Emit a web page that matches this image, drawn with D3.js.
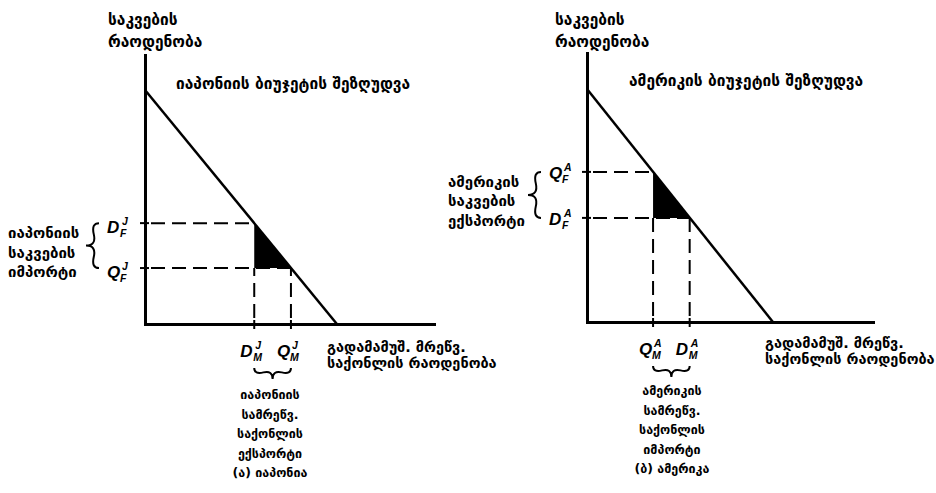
<!DOCTYPE html>
<html>
<head>
<meta charset="utf-8">
<script src="https://cdn.jsdelivr.net/npm/d3@7/dist/d3.min.js"></script>
<style>
  body { margin: 0; background: #fff; }
  svg { display: block; }
  .geo { font-family: "DejaVu Sans", sans-serif; font-weight: bold; fill: #000; }
  .sym { font-family: "Liberation Sans", Arial, sans-serif; font-weight: bold; font-style: italic; fill: #000; }
</style>
</head>
<body>
<script>
// Budget constraints of two trading economies: food vs. manufactured goods
const countries = ["japan", "america"];
const countrySup = ["J", "A"];

// Budget line intercepts (units of food / of manufactured goods)
const foodMax = [87, 86.6];
const goodsMax = [66.4, 65];

// Consumption (D) and production (Q) points
const consumptionGoods = [37.8, 35.9];
const consumptionFood = [37.5, 38.7];
const productionGoods = [50.5, 23.1];
const productionFood = [20.8, 55.8];

// Texts
const yAxisTitle = ["საკვების", "რაოდენობა"];
const xAxisTitle = ["გადამამუშ. მრეწვ.", "საქონლის რაოდენობა"];
const budgetTitles = ["იაპონიის ბიუჯეტის შეზღუდვა", "ამერიკის ბიუჯეტის შეზღუდვა"];
const foodTradeLabels = [
  ["იაპონიის", "საკვების", "იმპორტი"],
  ["ამერიკის", "საკვების", "ექსპორტი"]
];
const goodsTradeLabels = [
  ["იაპონიის", "სამრეწვ.", "საქონლის", "ექსპორტი", "(ა) იაპონია"],
  ["ამერიკის", "სამრეწვ.", "საქონლის", "იმპორტი", "(ბ) ამერიკა"]
];

const W = 936, H = 493;
const svg = d3.select("body").append("svg").attr("width", W).attr("height", H);

// Panel placement
const layout = [
  { ox: 145, oy: 324, xLen: 289, yLen: 269, yTitleX: 108, budgetX: 176, budgetY: 89,
    xTitleX: 327, xTitleY: 352, sideX: 8, bottomCX: 270, bottomY0: 399 },
  { ox: 587, oy: 322, xLen: 286, yLen: 269, yTitleX: 555, budgetX: 629, budgetY: 86,
    xTitleX: 765, xTitleY: 348, sideX: 448, bottomCX: 672, bottomY0: 395 }
];

// Curly brace from (x1,y1) to (x2,y2), bulging by w
function bracePath(x1, y1, x2, y2, w, q) {
  let dx = x1 - x2, dy = y1 - y2;
  const len = Math.hypot(dx, dy);
  dx /= len; dy /= len;
  const qx1 = x1 + q * w * dy, qy1 = y1 - q * w * dx;
  const qx2 = (x1 - .25 * len * dx) + (1 - q) * w * dy, qy2 = (y1 - .25 * len * dy) - (1 - q) * w * dx;
  const tx1 = (x1 - .5 * len * dx) + w * dy, ty1 = (y1 - .5 * len * dy) - w * dx;
  const qx3 = x2 + q * w * dy, qy3 = y2 - q * w * dx;
  const qx4 = (x1 - .75 * len * dx) + (1 - q) * w * dy, qy4 = (y1 - .75 * len * dy) - (1 - q) * w * dx;
  return `M${x1},${y1} Q${qx1},${qy1} ${qx2},${qy2} T${tx1},${ty1} M${x2},${y2} Q${qx3},${qy3} ${qx4},${qy4} T${tx1},${ty1}`;
}

// Symbol like D with stacked superscript and subscript
function symbol(g, x, y, main, sup, sub) {
  g.append("text").attr("class", "sym").attr("x", x).attr("y", y)
    .attr("font-size", 17).text(main);
  g.append("text").attr("class", "sym").attr("x", x + 15).attr("y", y - 8)
    .attr("font-size", 10.5).text(sup);
  g.append("text").attr("class", "sym").attr("x", x + 13).attr("y", y + 4)
    .attr("font-size", 10.5).text(sub);
}

function multiline(g, lines, x, y0, step, anchor, size) {
  const t = g.append("text").attr("class", "geo").attr("text-anchor", anchor)
    .attr("font-size", size);
  lines.forEach((s, i) => t.append("tspan").attr("x", x).attr("y", y0 + i * step).text(s));
}

countries.forEach((c, i) => {
  const L = layout[i];
  const g = svg.append("g").attr("class", c);
  const x = d3.scaleLinear().domain([0, 100]).range([L.ox, L.ox + L.xLen]);
  const y = d3.scaleLinear().domain([0, 100]).range([L.oy, L.oy - L.yLen]);

  const dM = consumptionGoods[i], dF = consumptionFood[i];
  const qM = productionGoods[i], qF = productionFood[i];

  // trade triangle
  const tri = i === 0
    ? [[dM, dF], [dM, qF], [qM, qF]]
    : [[qM, qF], [qM, dF], [dM, dF]];
  g.append("path")
    .attr("d", d3.line().x(d => x(d[0])).y(d => y(d[1]))(tri) + "Z")
    .attr("fill", "#000");

  // dashed guides to the axes
  const dash = "14,7";
  const guides = [
    [[0, dF], [dM, dF]],
    [[0, qF], [qM, qF]],
    [[dM, 0], [dM, Math.min(dF, qF)]],
    [[qM, 0], [qM, Math.min(dF, qF)]]
  ];
  guides.forEach(seg => {
    const horiz = seg[0][1] === seg[1][1];
    const [a, b] = seg;
    g.append("line")
      .attr("x1", x(a[0]) + (horiz ? 6 : 0)).attr("y1", y(a[1]) - (horiz ? 0 : 6))
      .attr("x2", x(b[0])).attr("y2", y(b[1]))
      .attr("stroke", "#000").attr("stroke-width", 2).attr("stroke-dasharray", dash);
    // tick across the axis
    if (horiz) {
      g.append("line").attr("x1", x(0) - 5).attr("x2", x(0) + 4)
        .attr("y1", y(a[1])).attr("y2", y(a[1])).attr("stroke", "#000").attr("stroke-width", 2);
    } else {
      g.append("line").attr("y1", y(0) - 4).attr("y2", y(0) + 5)
        .attr("x1", x(a[0])).attr("x2", x(a[0])).attr("stroke", "#000").attr("stroke-width", 2);
    }
  });

  // budget constraint
  g.append("line")
    .attr("x1", x(0)).attr("y1", y(foodMax[i]))
    .attr("x2", x(goodsMax[i])).attr("y2", y(0))
    .attr("stroke", "#000").attr("stroke-width", 2.5);

  // axes
  const xAxis = d3.axisBottom(x).ticks(0).tickSizeOuter(0);
  const yAxis = d3.axisLeft(y).ticks(0).tickSizeOuter(0);
  g.append("g").attr("transform", `translate(0,${L.oy})`).call(xAxis)
    .select(".domain").attr("stroke-width", 3).attr("stroke-linecap", "square");
  g.append("g").attr("transform", `translate(${L.ox},0)`).call(yAxis)
    .select(".domain").attr("stroke-width", 3).attr("stroke-linecap", "square");

  // titles
  multiline(g, yAxisTitle, L.yTitleX, 25, 22, "start", 15.5);
  multiline(g, [budgetTitles[i]], L.budgetX, L.budgetY, 0, "start", 15.5);
  multiline(g, xAxisTitle, L.xTitleX, L.xTitleY, 16, "start", 14.5);

  // food-axis symbols
  const sup = countrySup[i];
  const off = i === 0 ? 10 : 7;
  symbol(g, L.ox - 38, y(dF) + off, "D", sup, "F");
  symbol(g, L.ox - 38, y(qF) + off, "Q", sup, "F");

  // goods-axis symbols
  symbol(g, x(dM) - 14, L.oy + 33, "D", sup, "M");
  symbol(g, x(qM) - 14, L.oy + 33, "Q", sup, "M");

  // braces
  const fTop = y(Math.max(dF, qF)), fBot = y(Math.min(dF, qF));
  g.append("path").attr("d", bracePath(L.ox - 46, fTop, L.ox - 46, fBot, 13, 0.6))
    .attr("fill", "none").attr("stroke", "#000").attr("stroke-width", 2);
  const gL = x(Math.min(dM, qM)), gR = x(Math.max(dM, qM));
  g.append("path").attr("d", bracePath(gL, L.oy + 44, gR, L.oy + 44, 11, 0.6))
    .attr("fill", "none").attr("stroke", "#000").attr("stroke-width", 2);

  // trade labels
  multiline(g, foodTradeLabels[i], L.sideX, fTop + 15, 19.5, "start", 15);
  multiline(g, goodsTradeLabels[i], L.bottomCX, L.bottomY0, 19.5, "middle", 12.5);
});
</script>
</body>
</html>
